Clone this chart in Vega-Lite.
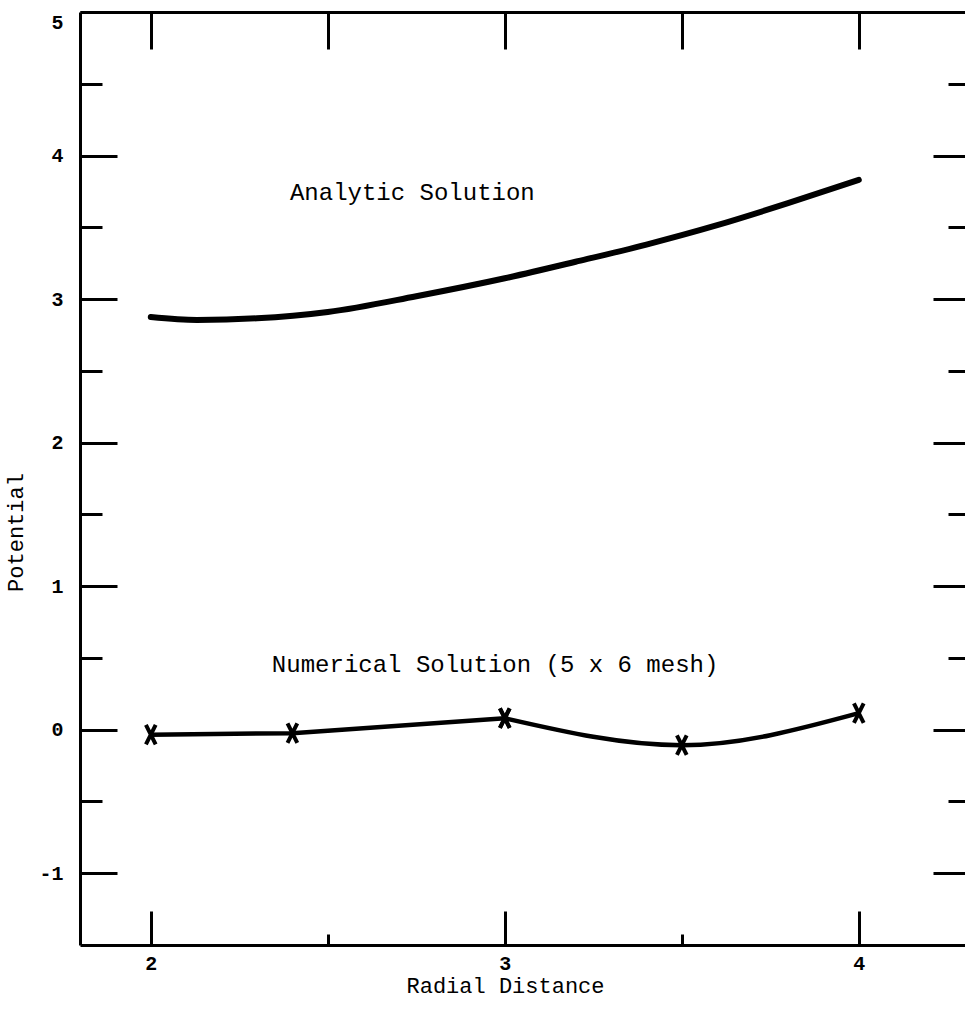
{
  "$schema": "https://vega.github.io/schema/vega-lite/v6.json",
  "width": 885,
  "height": 933,
  "autosize": {"type": "none"},
  "padding": {"left": 80, "top": 12, "right": 0, "bottom": 65},
  "background": "white",
  "config": {
    "view": {"stroke": null},
    "axis": {
      "grid": false,
      "domainColor": "black",
      "domainWidth": 3,
      "ticks": true,
      "tickColor": "black",
      "tickWidth": 3,
      "labelFont": "Liberation Mono",
      "labelFontSize": 20,
      "labelFontWeight": "bold",
      "labelColor": "black",
      "titleFont": "Liberation Mono",
      "titleFontSize": 22,
      "titleFontWeight": "normal",
      "titleColor": "black"
    }
  },
  "datasets": {
    "analytic": [
      {"r": 2.0, "v": 2.875},
      {"r": 2.13, "v": 2.855},
      {"r": 2.3, "v": 2.866},
      {"r": 2.5, "v": 2.91},
      {"r": 2.75, "v": 3.02},
      {"r": 3.0, "v": 3.145},
      {"r": 3.2, "v": 3.26},
      {"r": 3.4, "v": 3.38},
      {"r": 3.6, "v": 3.515},
      {"r": 3.8, "v": 3.668},
      {"r": 4.0, "v": 3.83}
    ],
    "numerical": [
      {"r": 2.0, "v": -0.035, "seg": "a"},
      {"r": 2.4, "v": -0.024, "seg": "a"},
      {"r": 3.0, "v": 0.08, "seg": "a"},
      {"r": 3.0, "v": 0.08, "seg": "b"},
      {"r": 3.5, "v": -0.108, "seg": "b"},
      {"r": 4.0, "v": 0.115, "seg": "b"}
    ],
    "notes": [
      {"r": 2.393, "v": 3.74, "label": "Analytic Solution"},
      {"r": 2.342, "v": 0.45, "label": "Numerical Solution (5 x 6 mesh)"}
    ]
  },
  "layer": [
    {
      "data": {"name": "analytic"},
      "mark": {"type": "line", "color": "black", "strokeWidth": 6, "interpolate": "monotone", "strokeCap": "round"},
      "encoding": {
        "x": {
          "field": "r", "type": "quantitative",
          "scale": {"domain": [1.8, 4.3], "nice": false, "zero": false},
          "axis": {
            "orient": "bottom",
            "title": "Radial Distance",
            "values": [2, 2.5, 3, 3.5, 4],
            "labelExpr": "datum.value % 1 === 0 ? '' + datum.value : ''",
            "tickSize": {"condition": {"test": "datum.value % 1 === 0", "value": -34}, "value": -11},
            "labelPadding": {"condition": {"test": "datum.value % 1 === 0", "value": 42}, "value": 19},
            "titleX": 425,
            "titleY": 40,
            "titleBaseline": "middle"
          }
        },
        "y": {
          "field": "v", "type": "quantitative",
          "scale": {"domain": [-1.5, 5], "nice": false, "zero": false},
          "axis": {
            "orient": "left",
            "title": "Potential",
            "values": [-1, -0.5, 0, 0.5, 1, 1.5, 2, 2.5, 3, 3.5, 4, 4.5, 5],
            "labelExpr": "datum.value % 1 === 0 ? '' + datum.value : ''",
            "tickSize": {"condition": {"test": "datum.value % 1 === 0", "value": -37}, "value": -22},
            "labelPadding": 54,
            "labelFlush": true,
            "titleX": -65,
            "titleY": 520,
            "titleBaseline": "middle",
            "titleAngle": -90
          }
        }
      }
    },
    {
      "data": {"name": "numerical"},
      "transform": [{"filter": "datum.seg === 'a'"}],
      "mark": {"type": "line", "color": "black", "strokeWidth": 4.5, "interpolate": "linear"},
      "encoding": {
        "x": {
          "field": "r", "type": "quantitative",
          "scale": {"domain": [1.8, 4.3], "nice": false, "zero": false},
          "axis": {
            "orient": "top",
            "title": null,
            "labels": false,
            "values": [2, 2.5, 3, 3.5, 4],
            "tickSize": -37
          }
        },
        "y": {
          "field": "v", "type": "quantitative",
          "scale": {"domain": [-1.5, 5], "nice": false, "zero": false},
          "axis": {
            "orient": "right",
            "title": null,
            "labels": false,
            "domain": false,
            "domainOpacity": 0,
            "values": [-1, -0.5, 0, 0.5, 1, 1.5, 2, 2.5, 3, 3.5, 4, 4.5],
            "tickSize": {"condition": {"test": "datum.value % 1 === 0", "value": -32}, "value": -17}
          }
        }
      }
    },
    {
      "data": {"name": "numerical"},
      "transform": [{"filter": "datum.seg === 'b'"}],
      "mark": {"type": "line", "color": "black", "strokeWidth": 4.5, "interpolate": "monotone"},
      "encoding": {
        "x": {"field": "r", "type": "quantitative", "axis": null},
        "y": {"field": "v", "type": "quantitative", "axis": null}
      }
    },
    {
      "data": {"name": "numerical"},
      "mark": {"type": "point", "shape": "M-0.5,-1L0.5,1M0.5,-1L-0.5,1", "filled": false, "stroke": "black", "strokeWidth": 4, "size": 380, "opacity": 1},
      "encoding": {
        "x": {"field": "r", "type": "quantitative", "axis": null},
        "y": {"field": "v", "type": "quantitative", "axis": null}
      }
    },
    {
      "data": {"name": "notes"},
      "mark": {"type": "text", "font": "Liberation Mono", "fontSize": 24, "align": "left", "baseline": "middle", "color": "black"},
      "encoding": {
        "x": {"field": "r", "type": "quantitative", "axis": null},
        "y": {"field": "v", "type": "quantitative", "axis": null},
        "text": {"field": "label"}
      }
    }
  ],
  "resolve": {"axis": {"x": "independent", "y": "independent"}}
}
